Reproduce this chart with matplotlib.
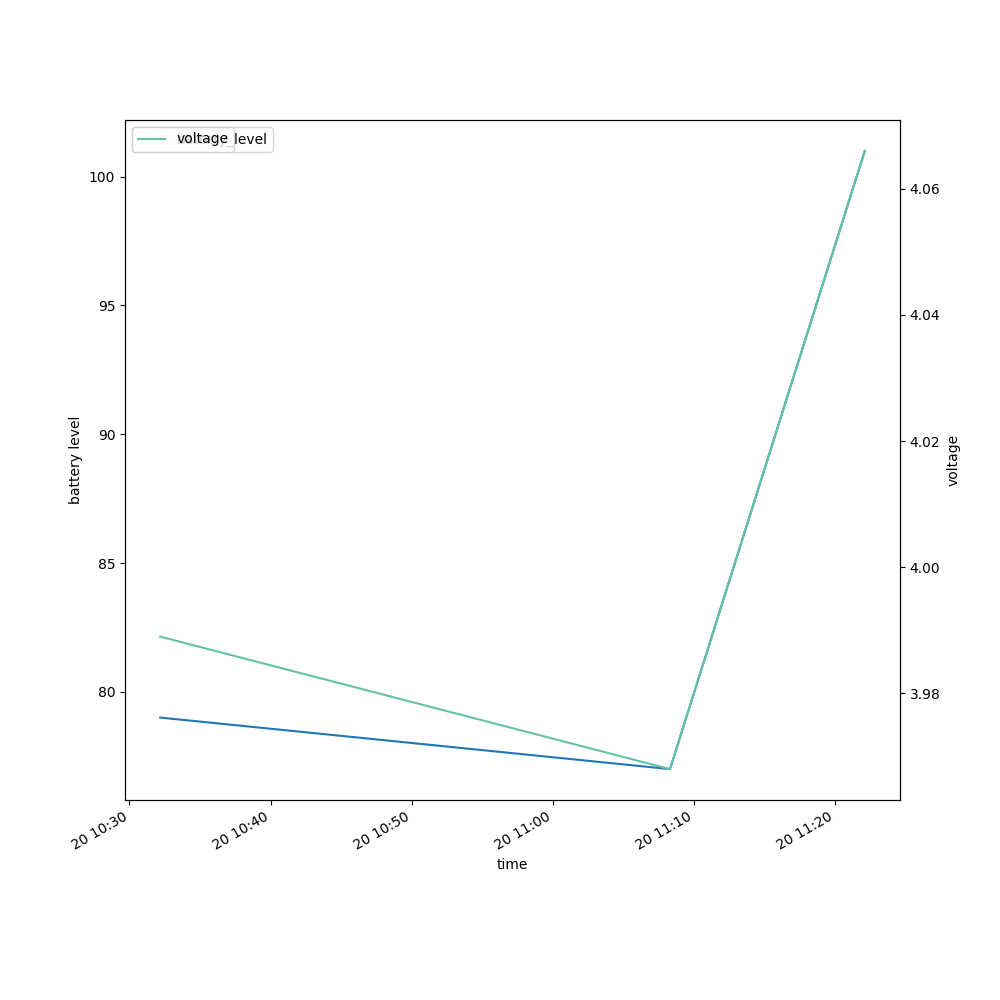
import numpy as np
import pandas as pd
import matplotlib
matplotlib.use("Agg")
import matplotlib.pyplot as plt

# ===== Data =====
time = pd.to_datetime(["2023-06-20 10:32:11", "2023-06-20 11:08:18", "2023-06-20 11:22:06"])
battery_level = [79, 77, 101]
voltage = [3.989, 3.968, 4.066]

# ===== Figure =====
fig, ax1 = plt.subplots(figsize=(10, 10), dpi=100)
ax1.plot(time, battery_level, color="#1f77b4", label="battery_level")
ax1.set_xlabel("time")
ax1.set_ylabel("battery level")
ax1.legend(loc="upper left")

ax2 = ax1.twinx()
ax2.plot(time, voltage, color="#66c2a5", label="voltage")
ax2.set_ylabel("voltage")
ax2.legend(loc="upper left")

fig.autofmt_xdate()
plt.savefig("out.png", dpi=100)
